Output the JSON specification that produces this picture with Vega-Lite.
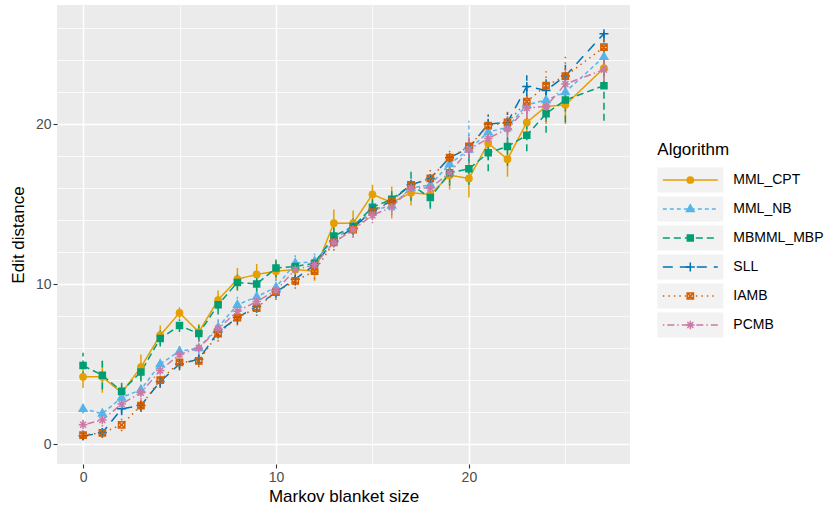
{
"$schema": "https://vega.github.io/schema/vega-lite/v6.json",
"width": 573, "height": 459,
"autosize": "none",
"padding": {"left": 57, "top": 5, "right": 198, "bottom": 48},
"config": {"font": "Liberation Sans", "view": {"fill": "#EBEBEB", "stroke": null},
  "legend": {"orient": "none", "legendX": 600.3, "legendY": 137, "title": "Algorithm",
    "titleFontSize": 17, "titleFontWeight": "normal", "titleColor": "black", "titlePadding": 8,
    "labelFontSize": 14, "labelColor": "black", "labelOffset": 30, "symbolOffset": 20,
    "symbolSize": 576, "symbolStrokeWidth": 1.5, "rowPadding": -4.3},
  "axisY": {"title": "Edit distance", "values": [0, 5, 10, 15, 20, 25],
         "labelExpr": "datum.value % 10 === 0 ? datum.label : ''",
         "labelFontSize": 14, "labelColor": "#4D4D4D", "labelPadding": 2, "labelOverlap": false, "labelFlush": false,
         "tickSize": 4, "tickWidth": 1.1,
         "tickColor": {"condition": {"test": "datum.value % 10 === 0", "value": "#333333"}, "value": "transparent"},
         "domain": false, "grid": true, "gridColor": "#FFFFFF",
         "gridWidth": {"condition": {"test": "datum.value % 10 === 0", "value": 1.5}, "value": 0.75},
         "titleFontSize": 17, "titleFontWeight": "normal", "titleColor": "black", "titlePadding": 8}},
"data": {"values": [
{"Algorithm":"MML_CPT","size":0,"dist":4.2,"lo":3.5,"hi":4.9},
{"Algorithm":"MML_CPT","size":1,"dist":4.2,"lo":3.2,"hi":5.2},
{"Algorithm":"MML_CPT","size":2,"dist":3.2,"lo":2.7,"hi":3.7},
{"Algorithm":"MML_CPT","size":3,"dist":4.8,"lo":4.0,"hi":5.6},
{"Algorithm":"MML_CPT","size":4,"dist":6.8,"lo":6.2,"hi":7.4},
{"Algorithm":"MML_CPT","size":5,"dist":8.2,"lo":7.85,"hi":8.55},
{"Algorithm":"MML_CPT","size":6,"dist":7.0,"lo":6.5,"hi":7.5},
{"Algorithm":"MML_CPT","size":7,"dist":9.0,"lo":8.4,"hi":9.6},
{"Algorithm":"MML_CPT","size":8,"dist":10.3,"lo":9.6,"hi":11.0},
{"Algorithm":"MML_CPT","size":9,"dist":10.6,"lo":9.95,"hi":11.25},
{"Algorithm":"MML_CPT","size":10,"dist":10.8,"lo":10.2,"hi":11.4},
{"Algorithm":"MML_CPT","size":11,"dist":10.9,"lo":10.4,"hi":11.4},
{"Algorithm":"MML_CPT","size":12,"dist":10.8,"lo":10.2,"hi":11.4},
{"Algorithm":"MML_CPT","size":13,"dist":13.8,"lo":12.95,"hi":14.65},
{"Algorithm":"MML_CPT","size":14,"dist":13.8,"lo":13.0,"hi":14.6},
{"Algorithm":"MML_CPT","size":15,"dist":15.6,"lo":15.0,"hi":16.2},
{"Algorithm":"MML_CPT","size":16,"dist":15.1,"lo":14.1,"hi":16.1},
{"Algorithm":"MML_CPT","size":17,"dist":15.7,"lo":14.9,"hi":16.5},
{"Algorithm":"MML_CPT","size":18,"dist":15.6,"lo":14.8,"hi":16.4},
{"Algorithm":"MML_CPT","size":19,"dist":16.8,"lo":15.9,"hi":17.7},
{"Algorithm":"MML_CPT","size":20,"dist":16.6,"lo":15.4,"hi":17.8},
{"Algorithm":"MML_CPT","size":21,"dist":18.8,"lo":17.8,"hi":19.8},
{"Algorithm":"MML_CPT","size":22,"dist":17.8,"lo":16.7,"hi":18.9},
{"Algorithm":"MML_CPT","size":23,"dist":20.1,"lo":19.1,"hi":21.1},
{"Algorithm":"MML_CPT","size":24,"dist":21.1,"lo":20.0,"hi":22.2},
{"Algorithm":"MML_CPT","size":25,"dist":21.2,"lo":20.0,"hi":22.4},
{"Algorithm":"MML_CPT","size":27,"dist":23.5,"lo":22.2,"hi":24.8},
{"Algorithm":"MML_NB","size":0,"dist":2.2,"lo":1.9,"hi":2.5},
{"Algorithm":"MML_NB","size":1,"dist":1.9,"lo":1.6,"hi":2.2},
{"Algorithm":"MML_NB","size":2,"dist":2.9,"lo":2.5,"hi":3.3},
{"Algorithm":"MML_NB","size":3,"dist":3.4,"lo":3.0,"hi":3.8},
{"Algorithm":"MML_NB","size":4,"dist":5.0,"lo":4.6,"hi":5.4},
{"Algorithm":"MML_NB","size":5,"dist":5.8,"lo":5.4,"hi":6.2},
{"Algorithm":"MML_NB","size":6,"dist":6.0,"lo":5.5,"hi":6.5},
{"Algorithm":"MML_NB","size":7,"dist":7.3,"lo":6.8,"hi":7.8},
{"Algorithm":"MML_NB","size":8,"dist":8.7,"lo":8.2,"hi":9.2},
{"Algorithm":"MML_NB","size":9,"dist":9.2,"lo":8.7,"hi":9.7},
{"Algorithm":"MML_NB","size":10,"dist":9.8,"lo":9.3,"hi":10.3},
{"Algorithm":"MML_NB","size":11,"dist":11.3,"lo":10.8,"hi":11.8},
{"Algorithm":"MML_NB","size":12,"dist":11.4,"lo":10.9,"hi":11.9},
{"Algorithm":"MML_NB","size":13,"dist":12.8,"lo":12.3,"hi":13.3},
{"Algorithm":"MML_NB","size":14,"dist":13.6,"lo":13.1,"hi":14.1},
{"Algorithm":"MML_NB","size":15,"dist":14.6,"lo":14.1,"hi":15.1},
{"Algorithm":"MML_NB","size":16,"dist":14.9,"lo":14.4,"hi":15.4},
{"Algorithm":"MML_NB","size":17,"dist":16.0,"lo":15.4,"hi":16.6},
{"Algorithm":"MML_NB","size":18,"dist":16.2,"lo":15.6,"hi":16.8},
{"Algorithm":"MML_NB","size":19,"dist":17.5,"lo":16.8,"hi":18.2},
{"Algorithm":"MML_NB","size":20,"dist":18.4,"lo":16.6,"hi":20.2},
{"Algorithm":"MML_NB","size":21,"dist":19.5,"lo":18.7,"hi":20.3},
{"Algorithm":"MML_NB","size":22,"dist":19.8,"lo":18.9,"hi":20.7},
{"Algorithm":"MML_NB","size":23,"dist":21.2,"lo":20.3,"hi":22.1},
{"Algorithm":"MML_NB","size":24,"dist":21.5,"lo":20.6,"hi":22.4},
{"Algorithm":"MML_NB","size":25,"dist":22.0,"lo":21.0,"hi":23.0},
{"Algorithm":"MML_NB","size":27,"dist":24.2,"lo":23.2,"hi":25.2},
{"Algorithm":"MBMML_MBP","size":0,"dist":4.9,"lo":4.1,"hi":5.7},
{"Algorithm":"MBMML_MBP","size":1,"dist":4.3,"lo":3.4,"hi":5.2},
{"Algorithm":"MBMML_MBP","size":2,"dist":3.3,"lo":2.7,"hi":3.9},
{"Algorithm":"MBMML_MBP","size":3,"dist":4.5,"lo":3.9,"hi":5.1},
{"Algorithm":"MBMML_MBP","size":4,"dist":6.6,"lo":6.1,"hi":7.1},
{"Algorithm":"MBMML_MBP","size":5,"dist":7.4,"lo":7.0,"hi":7.8},
{"Algorithm":"MBMML_MBP","size":6,"dist":6.9,"lo":6.4,"hi":7.4},
{"Algorithm":"MBMML_MBP","size":7,"dist":8.7,"lo":8.1,"hi":9.3},
{"Algorithm":"MBMML_MBP","size":8,"dist":10.1,"lo":9.6,"hi":10.6},
{"Algorithm":"MBMML_MBP","size":9,"dist":10.0,"lo":9.4,"hi":10.6},
{"Algorithm":"MBMML_MBP","size":10,"dist":11.0,"lo":10.4,"hi":11.6},
{"Algorithm":"MBMML_MBP","size":11,"dist":11.1,"lo":10.6,"hi":11.6},
{"Algorithm":"MBMML_MBP","size":12,"dist":11.3,"lo":10.9,"hi":11.7},
{"Algorithm":"MBMML_MBP","size":13,"dist":13.0,"lo":12.4,"hi":13.6},
{"Algorithm":"MBMML_MBP","size":14,"dist":13.6,"lo":13.1,"hi":14.1},
{"Algorithm":"MBMML_MBP","size":15,"dist":14.8,"lo":14.3,"hi":15.3},
{"Algorithm":"MBMML_MBP","size":16,"dist":15.3,"lo":14.8,"hi":15.8},
{"Algorithm":"MBMML_MBP","size":17,"dist":16.2,"lo":15.2,"hi":17.2},
{"Algorithm":"MBMML_MBP","size":18,"dist":15.4,"lo":14.7,"hi":16.1},
{"Algorithm":"MBMML_MBP","size":19,"dist":16.95,"lo":16.15,"hi":17.75},
{"Algorithm":"MBMML_MBP","size":20,"dist":17.2,"lo":16.2,"hi":18.2},
{"Algorithm":"MBMML_MBP","size":21,"dist":18.2,"lo":17.05,"hi":19.35},
{"Algorithm":"MBMML_MBP","size":22,"dist":18.6,"lo":17.4,"hi":19.8},
{"Algorithm":"MBMML_MBP","size":23,"dist":19.3,"lo":18.3,"hi":20.3},
{"Algorithm":"MBMML_MBP","size":24,"dist":20.65,"lo":19.45,"hi":21.85},
{"Algorithm":"MBMML_MBP","size":25,"dist":21.5,"lo":20.1,"hi":22.9},
{"Algorithm":"MBMML_MBP","size":27,"dist":22.4,"lo":20.2,"hi":24.6},
{"Algorithm":"SLL","size":0,"dist":0.5,"lo":0.3,"hi":0.7},
{"Algorithm":"SLL","size":1,"dist":0.7,"lo":0.4,"hi":1.0},
{"Algorithm":"SLL","size":2,"dist":2.2,"lo":1.8,"hi":2.6},
{"Algorithm":"SLL","size":3,"dist":2.4,"lo":2.0,"hi":2.8},
{"Algorithm":"SLL","size":4,"dist":3.9,"lo":3.5,"hi":4.3},
{"Algorithm":"SLL","size":5,"dist":5.0,"lo":4.6,"hi":5.4},
{"Algorithm":"SLL","size":6,"dist":5.3,"lo":4.9,"hi":5.7},
{"Algorithm":"SLL","size":7,"dist":7.0,"lo":6.6,"hi":7.4},
{"Algorithm":"SLL","size":8,"dist":7.9,"lo":7.5,"hi":8.3},
{"Algorithm":"SLL","size":9,"dist":8.6,"lo":8.2,"hi":9.0},
{"Algorithm":"SLL","size":10,"dist":9.5,"lo":9.1,"hi":9.9},
{"Algorithm":"SLL","size":11,"dist":10.3,"lo":9.9,"hi":10.7},
{"Algorithm":"SLL","size":12,"dist":11.2,"lo":10.8,"hi":11.6},
{"Algorithm":"SLL","size":13,"dist":12.7,"lo":12.3,"hi":13.1},
{"Algorithm":"SLL","size":14,"dist":13.5,"lo":13.1,"hi":13.9},
{"Algorithm":"SLL","size":15,"dist":14.6,"lo":14.2,"hi":15.0},
{"Algorithm":"SLL","size":16,"dist":15.2,"lo":14.8,"hi":15.6},
{"Algorithm":"SLL","size":17,"dist":16.2,"lo":15.7,"hi":16.7},
{"Algorithm":"SLL","size":18,"dist":16.6,"lo":16.1,"hi":17.1},
{"Algorithm":"SLL","size":19,"dist":17.9,"lo":17.4,"hi":18.4},
{"Algorithm":"SLL","size":20,"dist":18.5,"lo":17.9,"hi":19.1},
{"Algorithm":"SLL","size":21,"dist":20.0,"lo":19.4,"hi":20.6},
{"Algorithm":"SLL","size":22,"dist":20.1,"lo":19.5,"hi":20.7},
{"Algorithm":"SLL","size":23,"dist":22.35,"lo":21.65,"hi":23.05},
{"Algorithm":"SLL","size":24,"dist":22.1,"lo":21.4,"hi":22.8},
{"Algorithm":"SLL","size":25,"dist":23.0,"lo":22.3,"hi":23.7},
{"Algorithm":"SLL","size":27,"dist":25.65,"lo":25.15,"hi":26.15},
{"Algorithm":"IAMB","size":0,"dist":0.55,"lo":0.25,"hi":0.85},
{"Algorithm":"IAMB","size":1,"dist":0.7,"lo":0.4,"hi":1.0},
{"Algorithm":"IAMB","size":2,"dist":1.2,"lo":0.8,"hi":1.6},
{"Algorithm":"IAMB","size":3,"dist":2.4,"lo":2.0,"hi":2.8},
{"Algorithm":"IAMB","size":4,"dist":4.0,"lo":3.5,"hi":4.5},
{"Algorithm":"IAMB","size":5,"dist":5.1,"lo":4.7,"hi":5.5},
{"Algorithm":"IAMB","size":6,"dist":5.2,"lo":4.8,"hi":5.6},
{"Algorithm":"IAMB","size":7,"dist":6.9,"lo":6.4,"hi":7.4},
{"Algorithm":"IAMB","size":8,"dist":7.9,"lo":7.4,"hi":8.4},
{"Algorithm":"IAMB","size":9,"dist":8.5,"lo":8.0,"hi":9.0},
{"Algorithm":"IAMB","size":10,"dist":9.5,"lo":9.0,"hi":10.0},
{"Algorithm":"IAMB","size":11,"dist":10.2,"lo":9.7,"hi":10.7},
{"Algorithm":"IAMB","size":12,"dist":10.8,"lo":10.3,"hi":11.3},
{"Algorithm":"IAMB","size":13,"dist":12.6,"lo":12.1,"hi":13.1},
{"Algorithm":"IAMB","size":14,"dist":13.4,"lo":12.9,"hi":13.9},
{"Algorithm":"IAMB","size":15,"dist":14.5,"lo":14.0,"hi":15.0},
{"Algorithm":"IAMB","size":16,"dist":15.2,"lo":14.7,"hi":15.7},
{"Algorithm":"IAMB","size":17,"dist":16.2,"lo":15.7,"hi":16.7},
{"Algorithm":"IAMB","size":18,"dist":16.6,"lo":16.0,"hi":17.2},
{"Algorithm":"IAMB","size":19,"dist":17.9,"lo":17.2,"hi":18.6},
{"Algorithm":"IAMB","size":20,"dist":18.6,"lo":17.9,"hi":19.3},
{"Algorithm":"IAMB","size":21,"dist":19.9,"lo":19.2,"hi":20.6},
{"Algorithm":"IAMB","size":22,"dist":20.1,"lo":19.3,"hi":20.9},
{"Algorithm":"IAMB","size":23,"dist":21.4,"lo":20.3,"hi":22.5},
{"Algorithm":"IAMB","size":24,"dist":22.4,"lo":21.5,"hi":23.3},
{"Algorithm":"IAMB","size":25,"dist":23.0,"lo":21.7,"hi":24.3},
{"Algorithm":"IAMB","size":27,"dist":24.8,"lo":23.8,"hi":25.8},
{"Algorithm":"PCMB","size":0,"dist":1.2,"lo":0.8,"hi":1.6},
{"Algorithm":"PCMB","size":1,"dist":1.5,"lo":1.1,"hi":1.9},
{"Algorithm":"PCMB","size":2,"dist":2.5,"lo":2.1,"hi":2.9},
{"Algorithm":"PCMB","size":3,"dist":3.2,"lo":2.8,"hi":3.6},
{"Algorithm":"PCMB","size":4,"dist":4.6,"lo":4.1,"hi":5.1},
{"Algorithm":"PCMB","size":5,"dist":5.6,"lo":5.1,"hi":6.1},
{"Algorithm":"PCMB","size":6,"dist":6.0,"lo":5.5,"hi":6.5},
{"Algorithm":"PCMB","size":7,"dist":7.2,"lo":6.7,"hi":7.7},
{"Algorithm":"PCMB","size":8,"dist":8.3,"lo":7.8,"hi":8.8},
{"Algorithm":"PCMB","size":9,"dist":8.9,"lo":8.4,"hi":9.4},
{"Algorithm":"PCMB","size":10,"dist":9.6,"lo":9.1,"hi":10.1},
{"Algorithm":"PCMB","size":11,"dist":10.9,"lo":10.4,"hi":11.4},
{"Algorithm":"PCMB","size":12,"dist":11.2,"lo":10.7,"hi":11.7},
{"Algorithm":"PCMB","size":13,"dist":12.6,"lo":12.1,"hi":13.1},
{"Algorithm":"PCMB","size":14,"dist":13.4,"lo":12.9,"hi":13.9},
{"Algorithm":"PCMB","size":15,"dist":14.3,"lo":13.8,"hi":14.8},
{"Algorithm":"PCMB","size":16,"dist":14.8,"lo":14.3,"hi":15.3},
{"Algorithm":"PCMB","size":17,"dist":16.0,"lo":15.4,"hi":16.6},
{"Algorithm":"PCMB","size":18,"dist":16.0,"lo":15.4,"hi":16.6},
{"Algorithm":"PCMB","size":19,"dist":16.95,"lo":16.25,"hi":17.65},
{"Algorithm":"PCMB","size":20,"dist":18.4,"lo":17.6,"hi":19.2},
{"Algorithm":"PCMB","size":21,"dist":19.1,"lo":18.3,"hi":19.9},
{"Algorithm":"PCMB","size":22,"dist":19.7,"lo":18.9,"hi":20.5},
{"Algorithm":"PCMB","size":23,"dist":21.0,"lo":20.1,"hi":21.9},
{"Algorithm":"PCMB","size":24,"dist":21.1,"lo":20.2,"hi":22.0},
{"Algorithm":"PCMB","size":25,"dist":22.5,"lo":21.5,"hi":23.5},
{"Algorithm":"PCMB","size":27,"dist":23.4,"lo":22.4,"hi":24.4}
]},
"encoding": {
  "x": {"field": "size", "type": "quantitative",
    "scale": {"domain": [-1.35, 28.35], "nice": false, "zero": false},
    "axis": {"title": "Markov blanket size", "values": [0, 5, 10, 15, 20, 25],
      "labelExpr": "datum.value % 10 === 0 ? datum.label : ''",
      "labelFontSize": 14, "labelColor": "#4D4D4D", "labelPadding": 2, "labelOverlap": false, "labelFlush": false,
      "tickSize": 4, "tickWidth": 1.1,
      "tickColor": {"condition": {"test": "datum.value % 10 === 0", "value": "#333333"}, "value": "transparent"},
      "domain": false, "grid": true, "gridColor": "#FFFFFF",
      "gridWidth": {"condition": {"test": "datum.value % 10 === 0", "value": 1.5}, "value": 0.75},
      "titleFontSize": 17, "titleFontWeight": "normal", "titleColor": "black", "titlePadding": 4}}
},
"layer": [
  {"mark": {"type": "rule", "strokeWidth": 1.5},
   "encoding": {
     "y": {"field": "lo", "type": "quantitative", "title": "Edit distance", "scale": {"domain": [-1.25, 27.44], "nice": false, "zero": false}},
     "y2": {"field": "hi"},
     "stroke": {"field": "Algorithm", "type": "nominal",
       "scale": {"domain": ["MML_CPT", "MML_NB", "MBMML_MBP", "SLL", "IAMB", "PCMB"],
         "range": ["#E69F00", "#56B4E9", "#009E73", "#0072B2", "#D55E00", "#CC79A7"]}},
     "strokeDash": {"field": "Algorithm", "type": "nominal",
       "scale": {"domain": ["MML_CPT", "MML_NB", "MBMML_MBP", "SLL", "IAMB", "PCMB"],
         "range": [[1, 0], [4, 3], [7, 4], [10, 7], [1.5, 4], [1.5, 3, 7, 3]]}}
   }},
  {"mark": {"type": "line", "strokeWidth": 1.5},
   "encoding": {
     "y": {"field": "dist", "type": "quantitative", "title": "Edit distance", "scale": {"domain": [-1.25, 27.44], "nice": false, "zero": false}},
     "stroke": {"field": "Algorithm", "type": "nominal",
       "legend": {"orient": "none", "legendX": 600.3, "legendY": 137, "title": "Algorithm",
         "values": ["MML_CPT", "MML_NB", "MBMML_MBP", "SLL", "IAMB", "PCMB"],
         "labelOffset": 30, "symbolOffset": 20, "rowPadding": -4.3,
         "symbolType": "M-2.75,-1.042M2.75,1.042M-2.29,0H2.29", "symbolFillColor": "transparent",
         "symbolSize": 576, "symbolStrokeWidth": 1.5, "zindex": 2}},
     "strokeDash": {"field": "Algorithm", "type": "nominal"},
     "opacity": {"field": "Algorithm", "type": "nominal",
       "scale": {"domain": ["MML_CPT", "MML_NB", "MBMML_MBP", "SLL", "IAMB", "PCMB", "yyy"], "range": [1, 1]},
       "legend": {"orient": "none", "legendX": 600.3, "legendY": 137, "title": "Algorithm",
         "values": ["MML_CPT", "MML_NB", "MBMML_MBP", "SLL", "IAMB", "PCMB"],
         "titleOpacity": 0, "labelOpacity": 0,
         "labelOffset": 30, "symbolOffset": 20, "rowPadding": -4.3,
         "symbolType": "M-2.75,-1.042H2.75V1.042H-2.75Z", "symbolFillColor": "#F2F2F2", "symbolStrokeColor": "transparent",
         "symbolSize": 576, "symbolStrokeWidth": 1.5, "zindex": 1}}
   }},
  {"mark": {"type": "point", "filled": false, "size": 576, "strokeWidth": 1.5, "opacity": 1},
   "encoding": {
     "y": {"field": "dist", "type": "quantitative", "title": "Edit distance", "scale": {"domain": [-1.25, 27.44], "nice": false, "zero": false}},
     "color": {"field": "Algorithm", "type": "nominal",
       "scale": {"domain": ["MML_CPT", "MML_NB", "MBMML_MBP", "SLL", "IAMB", "PCMB", "zzz"],
         "range": ["#E69F00", "#56B4E9", "#009E73", "#0072B2", "#D55E00", "#CC79A7", "#999999"]},
       "legend": {"orient": "none", "legendX": 600.3, "legendY": 137, "title": "Algorithm",
         "values": ["MML_CPT", "MML_NB", "MBMML_MBP", "SLL", "IAMB", "PCMB"],
         "titleOpacity": 0, "labelOpacity": 0,
         "labelOffset": 30, "symbolOffset": 20, "rowPadding": -4.3,
         "symbolSize": 576, "symbolStrokeWidth": 1.5, "zindex": 3}},
     "shape": {"field": "Algorithm", "type": "nominal",
       "scale": {"domain": ["MML_CPT", "MML_NB", "MBMML_MBP", "SLL", "IAMB", "PCMB", "zzz"],
         "range": [
           "M-2.75,-1.042M2.75,1.042M0.26,0A0.26,0.26,0,1,1,-0.26,0A0.26,0.26,0,1,1,0.26,0Z",
           "M-2.75,-1.042M2.75,1.042M0,-0.354L0.323,0.208L-0.323,0.208Z",
           "M-2.75,-1.042M2.75,1.042M-0.25,-0.25H0.25V0.25H-0.25Z",
           "M-2.75,-1.042M2.75,1.042M-0.375,0H0.375M0,-0.375V0.375",
           "M-2.75,-1.042M2.75,1.042M-0.26,-0.26H0.26V0.26H-0.26ZM-0.26,-0.26L0.26,0.26M-0.26,0.26L0.26,-0.26",
           "M-2.75,-1.042M2.75,1.042M-0.354,0H0.354M0,-0.354V0.354M-0.25,-0.25L0.25,0.25M-0.25,0.25L0.25,-0.25",
           "circle"]}},
     "fill": {"field": "Algorithm", "type": "nominal",
       "scale": {"domain": ["MML_CPT", "MML_NB", "MBMML_MBP", "SLL", "IAMB", "PCMB", "zzz"],
         "range": ["#E69F00", "#56B4E9", "#009E73", "transparent", "transparent", "transparent", "transparent"]}}
   }}
]
}
